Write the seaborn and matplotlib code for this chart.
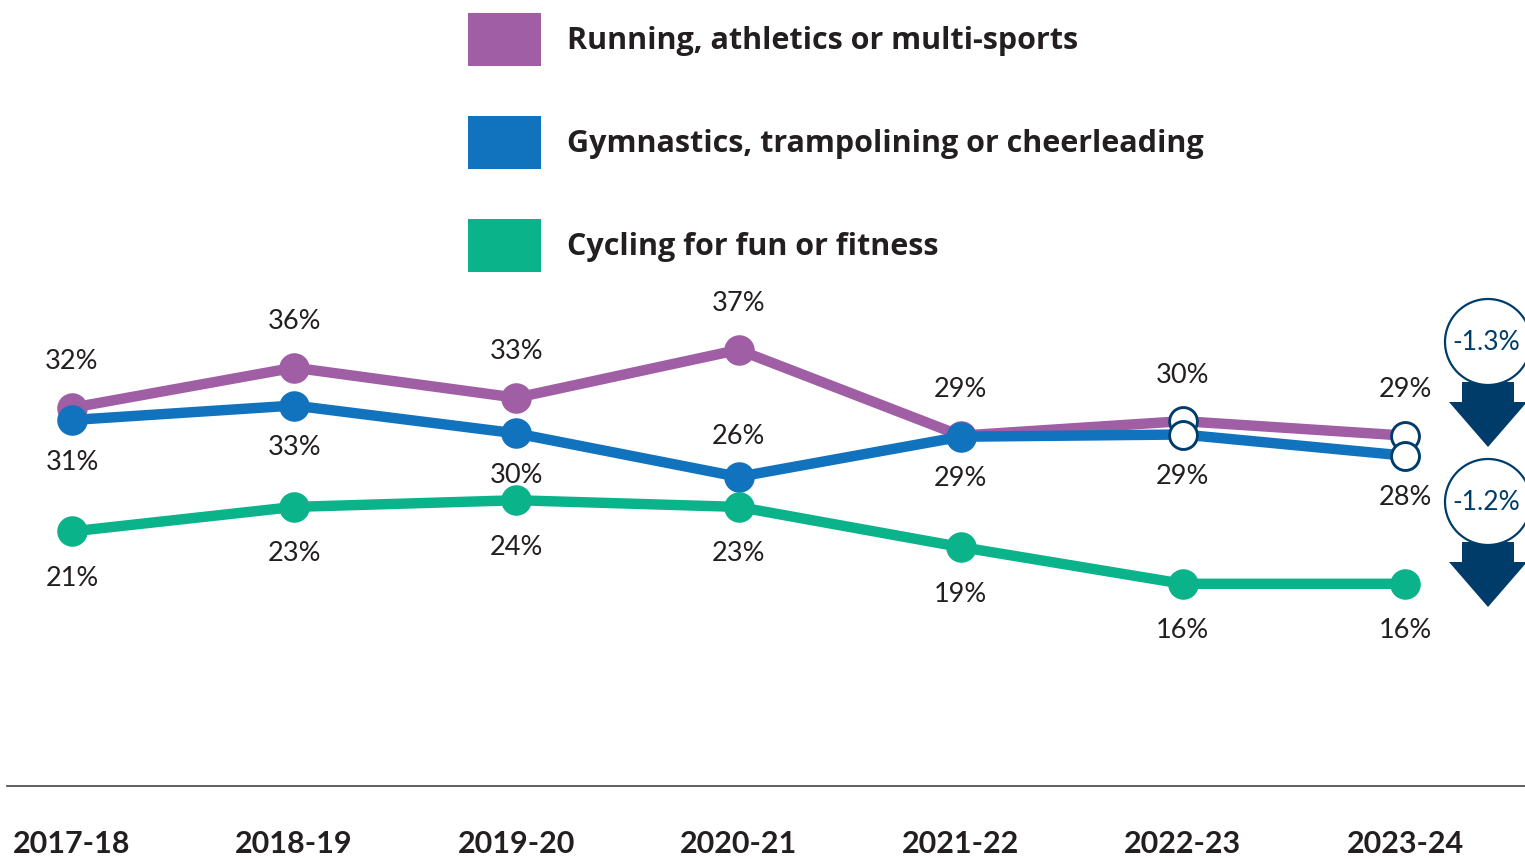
import numpy as np
import pandas as pd
import seaborn as sns
from matplotlib import pyplot as plt
from matplotlib.patches import Patch, Circle, Polygon
from matplotlib.transforms import IdentityTransform

years = ["2017-18", "2018-19", "2019-20", "2020-21", "2021-22", "2022-23", "2023-24"]
series_names = ["Running, athletics or multi-sports",
				"Gymnastics, trampolining or cheerleading",
				"Cycling for fun or fitness"]
running = [31.8, 35.4, 32.7, 37.0, 29.3, 30.6, 29.3]
gymnastics = [30.7, 32.0, 29.5, 25.6, 29.2, 29.4, 27.5]
cycling = [20.7, 22.9, 23.5, 22.9, 19.3, 16.0, 16.0]
running_labels = ["32%", "36%", "33%", "37%", "29%", "30%", "29%"]
gymnastics_labels = ["31%", "33%", "30%", "26%", "29%", "29%", "28%"]
cycling_labels = ["21%", "23%", "24%", "23%", "19%", "16%", "16%"]
changes = ["-1.3%", "-1.2%"]

colors = ["#A05EA5", "#1172BE", "#0BB38B"]
navy = "#003C69"
text_color = "#231F20"

df = pd.DataFrame({"year": years * 3,
				   "value": running + gymnastics + cycling,
				   "series": np.repeat(series_names, len(years))})
df["pos"] = list(range(len(years))) * 3
labels = dict(zip(series_names, [running_labels, gymnastics_labels, cycling_labels]))
hollow_years = ["2022-23", "2023-24"]

sns.set_style("white")
plt.rcParams["font.family"] = ["Lato", "DejaVu Sans"]

fig = plt.figure(figsize=(15.25, 8.59), dpi=100)
ax = fig.add_axes([7 / 1525, 73 / 859, 1 - 7 / 1525, 786 / 859])

for i, (name, color) in enumerate(zip(series_names, colors)):
	sub = df[df["series"] == name]
	sns.lineplot(data=sub, x="pos", y="value", color=color, linewidth=7.5, marker="o",
				 markersize=22, markeredgewidth=0, ax=ax, zorder=3 + 2 * i)
	if i < 2:
		hol = sub[sub["year"].isin(hollow_years)]
		ax.plot(hol["pos"], hol["value"], linestyle="none", marker="o", markersize=20,
				markerfacecolor="white", markeredgecolor=navy, markeredgewidth=2, zorder=4 + 2 * i)
	# data labels: running above, others below (gymnastics 2020-21 goes above)
	for j, (p, v) in enumerate(zip(sub["pos"], sub["value"])):
		if i == 0:
			dy = 46
		elif i == 1:
			dy = 40 if j == 3 else -42
		else:
			dy = -47
		ax.annotate(labels[name][j], (p, v), textcoords="offset pixels",
					xytext=(0, dy), ha="center", va="center",
					fontsize=19.5, color=text_color, zorder=10)

ax.set_xlim(-65 / 222.2, 6 + 120 / 222.2)
ax.set_ylim(-2.15, 68.4)
ax.set_xticks(range(len(years)))
ax.set_xticklabels(years, fontsize=22, fontweight="bold", color=text_color)
ax.tick_params(axis="x", length=0, pad=32)
ax.set_yticks([])
ax.set_xlabel("")
ax.set_ylabel("")
for side in ["top", "right", "left"]:
	ax.spines[side].set_visible(False)
ax.spines["bottom"].set_color("#444444")
ax.spines["bottom"].set_linewidth(1.2)
ax.patch.set_alpha(0)

handles = [Patch(facecolor=c, edgecolor="none", label=n) for c, n in zip(colors, series_names)]
leg = ax.legend(handles=handles, loc="upper left", bbox_to_anchor=(468 / 1525, 1 - 13 / 859),
				bbox_transform=fig.transFigure, frameon=False,
				prop={"family": ["Open Sans", "DejaVu Sans"], "weight": "bold", "size": 22},
				handlelength=2.4, handleheight=2.27, labelspacing=1.65, handletextpad=0.85,
				borderpad=0, borderaxespad=0)
for t in leg.get_texts():
	t.set_color(text_color)

# change badges with down arrows on the right edge (pixel coordinates)
for k, (label, cy) in enumerate(zip(changes, [342, 502])):
	cx = 1488
	y0 = 859 - cy
	arrow = Polygon([(cx - 26, y0 - 40), (cx + 26, y0 - 40), (cx + 26, y0 - 60), (cx + 39, y0 - 60),
					 (cx, y0 - 105), (cx - 39, y0 - 60), (cx - 26, y0 - 60)],
					closed=True, facecolor=navy, edgecolor="none",
					transform=IdentityTransform(), clip_on=False, zorder=20)
	fig.patches.append(arrow)
	circ = Circle((cx, y0), 43, facecolor="white", edgecolor=navy, linewidth=1.6,
				  transform=IdentityTransform(), clip_on=False, zorder=21)
	fig.patches.append(circ)
	fig.text(cx - 2, y0, label, transform=IdentityTransform(), ha="center", va="center",
			 fontsize=19, color=navy, zorder=22)

fig.savefig("out.png", dpi=100)
